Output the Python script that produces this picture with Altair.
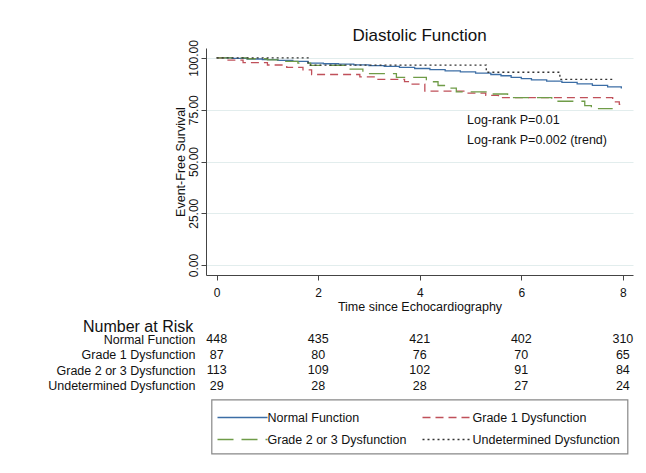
import altair as alt
import pandas as pd

FONT = "Liberation Sans"

groups = ["Normal Function", "Grade 1 Dysfunction", "Grade 2 or 3 Dysfunction", "Undetermined Dysfunction"]
colors = ["#3b6da5", "#c0505a", "#6f9c48", "#333333"]
dashes = [[1, 0], [8, 5], [16, 8], [2, 3]]

normal_t = [0, 0.3, 0.6, 0.9, 1.2, 1.5, 1.8, 2.1, 2.4, 2.7, 3.0, 3.3, 3.6, 3.9, 4.2, 4.5, 4.8, 5.1, 5.4, 5.6, 5.8, 6.0, 6.2, 6.5, 6.8, 7.1, 7.4, 7.7, 7.97]
normal_s = [100, 99.8, 99.5, 99.2, 98.8, 98.3, 97.5, 97.2, 97.0, 96.7, 96.3, 95.9, 95.4, 94.9, 94.4, 93.8, 93.3, 92.7, 92.0, 91.4, 90.6, 90.0, 89.4, 88.8, 88.2, 87.5, 86.8, 86.0, 85.3]

g1_t = [0, 0.2, 0.52, 1.0, 1.38, 1.7, 1.87, 2.82, 3.15, 3.7, 3.85, 4.1, 4.9, 5.3, 5.55, 7.8, 7.93, 7.97]
g1_s = [100, 98.9, 97.7, 96.6, 95.4, 94.2, 92.0, 90.9, 89.7, 88.6, 87.4, 84.0, 83.0, 81.9, 80.8, 78.8, 77.6, 77.6]

g23_t = [0, 0.6, 1.0, 1.3, 1.6, 1.85, 2.59, 2.88, 3.54, 4.13, 4.36, 4.5, 4.72, 5.38, 5.73, 6.6, 7.25, 7.38, 7.8]
g23_s = [100, 99.6, 99.1, 98.3, 97.5, 96.4, 94.6, 92.4, 90.6, 88.5, 86.7, 85.4, 83.6, 82.6, 80.8, 79.1, 77.0, 75.5, 75.5]

und_t = [0, 1.8, 5.31, 6.76, 7.85]
und_s = [100, 96.55, 93.1, 89.66, 89.66]

risk_times = [0, 2, 4, 6, 8]
risk_normal = [448, 435, 421, 402, 310]
risk_g1 = [87, 80, 76, 70, 65]
risk_g23 = [113, 109, 102, 91, 84]
risk_und = [29, 28, 28, 27, 24]

notes = ["Log-rank P=0.01", "Log-rank P=0.002 (trend)"]
notes_t = [4.93, 4.93]
notes_s = [70.2, 60.6]

rows = []
for g, ts, ss in zip(groups, [normal_t, g1_t, g23_t, und_t], [normal_s, g1_s, g23_s, und_s]):
    for t, s in zip(ts, ss):
        rows.append({"group": g, "t": t, "s": s})
curves = pd.DataFrame(rows)

risk_rows = []
for g, vals in zip(groups, [risk_normal, risk_g1, risk_g23, risk_und]):
    for t, v in zip(risk_times, vals):
        risk_rows.append({"group": g, "t": t, "n": v})
risk = pd.DataFrame(risk_rows)

notes_df = pd.DataFrame({"label": notes, "t": notes_t, "s": notes_s})

# legend entries: two columns, two rows
SYM = 0.244  # symbol length in column units
legend_df = pd.DataFrame({
    "group": groups,
    "col": [i % 2 for i in range(len(groups))],
    "row": [i // 2 for i in range(len(groups))],
})
legend_df["col_end"] = legend_df["col"] + SYM

color_scale = alt.Scale(domain=groups, range=colors)
dash_scale = alt.Scale(domain=groups, range=dashes)
xscale = alt.Scale(domain=[-0.21, 8.2], nice=False, zero=False)

lines = alt.Chart(curves).mark_line(interpolate="step-after", strokeWidth=1.3).encode(
    x=alt.X("t:Q", scale=xscale,
            axis=alt.Axis(values=risk_times, title="Time since Echocardiography", grid=False,
                          tickSize=5, labelPadding=7, titlePadding=2, labelFontSize=12,
                          titleFontSize=12.5, titleFontWeight="normal",
                          domainColor="#444", tickColor="#444", labelColor="#111", titleColor="#111")),
    y=alt.Y("s:Q", scale=alt.Scale(domain=[-4.8, 104.8], nice=False, zero=False),
            axis=alt.Axis(values=[0, 25, 50, 75, 100], format=".2f", title="Event-Free Survival",
                          labelAngle=-90, labelAlign="center", labelBaseline="bottom",
                          tickSize=5, labelPadding=1, titlePadding=0, labelFontSize=12,
                          titleFontSize=12.5, titleFontWeight="normal",
                          grid=True, gridColor="#e2eded", gridWidth=1,
                          domainColor="#444", tickColor="#444", labelColor="#111", titleColor="#111")),
    color=alt.Color("group:N", scale=color_scale, legend=None),
    strokeDash=alt.StrokeDash("group:N", scale=dash_scale, legend=None),
)

texts = alt.Chart(notes_df).mark_text(align="left", baseline="middle", fontSize=12.5, color="#111").encode(
    x=alt.X("t:Q", scale=xscale), y="s:Q", text="label:N")

main = alt.layer(lines, texts).properties(
    width=427, height=227,
    title=alt.TitleParams("Diastolic Function", fontSize=17, fontWeight="normal", color="#111",
                          anchor="middle", offset=-5))

table = alt.Chart(risk).mark_text(fontSize=12.5, color="#111").encode(
    x=alt.X("t:Q", scale=xscale, axis=None),
    y=alt.Y("group:N", sort=groups,
            scale=alt.Scale(domain=groups, range=[50.75, 112.75], paddingInner=0, paddingOuter=0),
            axis=alt.Axis(title=None, ticks=False, domain=False, labelPadding=11, labelFontSize=12.5,
                          labelColor="#111", labelAlign="right", labelLimit=300)),
    text="n:Q",
).properties(width=427, height=112.75,
             title=alt.TitleParams("Number at Risk", fontSize=16, fontWeight="normal", color="#111",
                                   anchor="start", frame="group", dx=-123, offset=-54.5))

leg_x = alt.Scale(domain=[-0.0293, 2.0], nice=False, zero=False)
leg_y = alt.Scale(domain=[-0.818, 1.636], nice=False, zero=False, reverse=True)

leg_rules = alt.Chart(legend_df).mark_rule(strokeWidth=1.3).encode(
    x=alt.X("col:Q", scale=leg_x, axis=None),
    x2="col_end:Q",
    y=alt.Y("row:Q", scale=leg_y, axis=None),
    color=alt.Color("group:N", scale=color_scale, legend=None),
    strokeDash=alt.StrokeDash("group:N", scale=dash_scale, legend=None),
)
leg_text = alt.Chart(legend_df).mark_text(align="left", baseline="middle", fontSize=12.5, color="#111").encode(
    x=alt.X("col_end:Q", scale=leg_x, axis=None),
    y=alt.Y("row:Q", scale=leg_y, axis=None),
    text="group:N",
)
legend = alt.layer(leg_rules, leg_text).properties(
    width=416, height=54,
    view=alt.ViewBackground(stroke="#888", strokeWidth=1.2, fill="white"))

chart = alt.vconcat(main, table, legend, spacing=5.75, bounds="flush", center=True).properties(
    padding={"left": 47, "top": 26, "right": 5, "bottom": 5}
).configure(font=FONT).configure_view(stroke=None)

chart.save("out.html", embed_options={"renderer": "svg", "actions": False})
